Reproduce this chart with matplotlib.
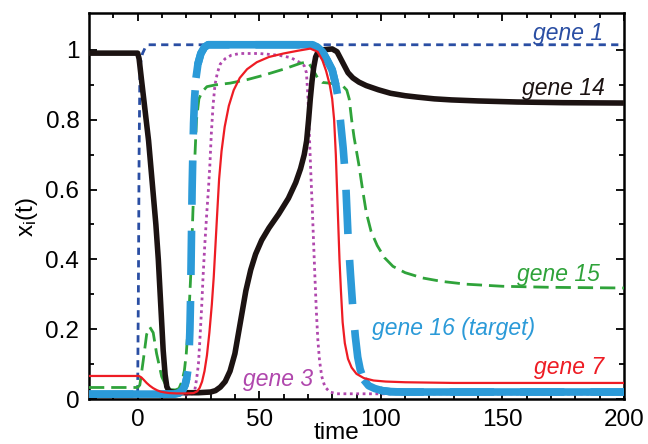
import matplotlib
matplotlib.use("Agg")
import matplotlib.pyplot as plt
import numpy as np

plt.rcParams['font.family'] = ['Liberation Sans', 'DejaVu Sans']
plt.rcParams['mathtext.fontset'] = 'custom'
plt.rcParams['mathtext.rm'] = 'Liberation Sans'
plt.rcParams['mathtext.it'] = 'Liberation Sans:italic'

# gene 1 (dark blue, short dashes)
t1 = [-20, 0, 0.3, 0.6, 0.9, 1.3, 2, 3, 4.5, 200]
y1 = [0.015, 0.015, 0.3, 0.7, 0.92, 0.965, 0.99, 1.005, 1.015, 1.015]

# gene 14 (black, thick)
t14 = [-20, 0, 0.6, 1.5, 2.5, 3.5, 4.5, 5.5, 6.5, 7.5, 8.5, 9.5, 10.5, 11.3, 12, 13,
       15, 20, 25, 30, 32, 34, 36, 38, 40, 41.5, 43, 44.5, 46.5, 48.5, 51, 54, 58,
       62, 65, 67, 68.5, 69.5, 70.3, 71, 71.7, 72.4, 73.2, 74.2, 75.5, 80, 82, 83.5,
       85, 86.5, 88.5, 91, 94, 99, 104, 110, 115, 122, 129, 140, 156, 175, 200]
y14 = [0.991, 0.991, 0.975, 0.92, 0.86, 0.8, 0.74, 0.66, 0.58, 0.5, 0.4, 0.27, 0.14,
       0.07, 0.035, 0.022, 0.019, 0.018, 0.018, 0.02, 0.024, 0.034, 0.05, 0.08, 0.13,
       0.19, 0.25, 0.31, 0.37, 0.415, 0.455, 0.49, 0.53, 0.575, 0.62, 0.66, 0.7, 0.74,
       0.8, 0.86, 0.91, 0.95, 0.98, 0.995, 1.0, 1.003, 0.995, 0.975, 0.955, 0.935,
       0.92, 0.908, 0.898, 0.886, 0.876, 0.869, 0.865, 0.86, 0.857, 0.854, 0.851,
       0.849, 0.848]

# gene 15 (green, dashed)
t15 = [-20, 0, 0.9, 2.3, 3.7, 5, 6.4, 7.8, 9.9, 11.9, 13.5, 15.5, 17, 18.2, 19.2, 20,
       20.7, 21.4, 22, 22.7, 23.4, 24.2, 25.2, 26.5, 28.5, 32, 38, 45, 52, 60, 67, 70,
       72, 74, 76, 79, 84, 86, 87, 88, 89, 90, 91, 92.5, 94, 96, 98.5, 101.5, 105,
       110, 117, 125, 135, 150, 170, 200]
y15 = [0.033, 0.033, 0.04, 0.11, 0.185, 0.206, 0.19, 0.13, 0.064, 0.035, 0.027, 0.026,
       0.03, 0.05, 0.08, 0.13, 0.2, 0.29, 0.38, 0.53, 0.67, 0.8, 0.86, 0.88, 0.895,
       0.9, 0.905, 0.915, 0.928, 0.945, 0.962, 0.966, 0.945, 0.92, 0.907, 0.905, 0.9,
       0.885, 0.86, 0.8, 0.75, 0.71, 0.67, 0.6, 0.535, 0.48, 0.44, 0.405, 0.38, 0.362,
       0.347, 0.337, 0.329, 0.323, 0.32, 0.318]

# gene 16 (target, light blue, thick)
t16 = [-20, 15, 17, 18.5, 19.5, 20.2, 20.7, 21.1, 21.5, 21.8, 22.0, 22.2, 22.4, 22.7,
       23.0, 23.4, 24.0, 24.8, 26, 27.5, 29, 72, 74, 76, 78, 80, 81.5, 82.5, 83.5,
       84.5, 85.5, 86.5, 87.5, 88.5, 89.5, 90.5, 91.5, 93, 95, 97.5, 100.5, 104, 110,
       200]
y16 = [0.014, 0.014, 0.017, 0.025, 0.04, 0.06, 0.085, 0.12, 0.2, 0.3, 0.4, 0.5, 0.6,
       0.7, 0.79, 0.86, 0.92, 0.96, 0.99, 1.008, 1.015, 1.015, 1.008, 0.995, 0.97,
       0.943, 0.9, 0.86, 0.79, 0.72, 0.63, 0.47, 0.36, 0.26, 0.18, 0.12, 0.085, 0.055,
       0.038, 0.03, 0.024, 0.021, 0.02, 0.02]

# gene 7 (red, thin)
t7 = [-20, 0.5, 1.5, 2.5, 3.7, 5, 6.4, 8, 9.5, 11, 13, 16, 20, 23, 24.5, 25.5, 26.5,
      27.5, 28.5, 29.5, 30.5, 31.3, 32, 32.7, 33.5, 34.5, 35.8, 37.5, 39.5, 42, 45,
      49, 54, 60, 66, 71, 74, 76, 77.5, 79, 80, 80.8, 81.5, 82, 82.5, 83, 83.6, 84.3,
      85.2, 86.5, 88, 90, 93, 97, 102, 110, 130, 200]
y7 = [0.066, 0.066, 0.062, 0.055, 0.046, 0.038, 0.031, 0.025, 0.021, 0.019, 0.017,
      0.016, 0.016, 0.017, 0.022, 0.032, 0.05, 0.08, 0.125, 0.19, 0.27, 0.35, 0.44,
      0.53, 0.63, 0.71, 0.78, 0.84, 0.885, 0.92, 0.945, 0.965, 0.98, 0.99, 0.998,
      1.004, 0.995, 0.97, 0.94, 0.9, 0.86, 0.8, 0.7, 0.6, 0.5, 0.4, 0.31, 0.22, 0.16,
      0.115, 0.09, 0.072, 0.06, 0.053, 0.05, 0.048, 0.046, 0.046]

# gene 3 (purple, dotted)
t3 = [-20, 21, 22.5, 23.5, 24.3, 25, 25.6, 26.3, 26.9, 27.6, 28.4, 29.1, 29.7, 30.3,
      31, 31.8, 32.8, 34, 36, 38.5, 42, 50, 58, 63, 66.5, 68.5, 69.4, 70, 70.6, 71.2,
      71.8, 72.4, 72.9, 73.5, 74.1, 74.8, 75.7, 77, 79, 82, 200]
y3 = [0.012, 0.012, 0.015, 0.025, 0.06, 0.1, 0.17, 0.26, 0.35, 0.44, 0.53, 0.6, 0.67,
      0.76, 0.84, 0.9, 0.935, 0.96, 0.975, 0.985, 0.99, 0.99, 0.985, 0.978, 0.965,
      0.955, 0.935, 0.87, 0.76, 0.65, 0.55, 0.44, 0.35, 0.25, 0.17, 0.11, 0.065,
      0.035, 0.02, 0.015, 0.014]

labels = ["gene 1", "gene 14", "gene 15", "gene 16 (target)", "gene 7", "gene 3"]
label_x = [191.5, 192, 190, 163.5, 192, 72]
label_y = [1.029, 0.871, 0.338, 0.183, 0.071, 0.037]

c1, c14, c15, c16, c7, c3 = "#2a4ea3", "#1c1312", "#2fa33a", "#2b9ad8", "#ee1c24", "#b047ad"

xticks = [0, 50, 100, 150, 200]
yticks = [0, 0.2, 0.4, 0.6, 0.8, 1.0]
ytick_labels = ["0", "0.2", "0.4", "0.6", "0.8", "1"]

fig = plt.figure(figsize=(6.48, 4.44), dpi=100)
ax = fig.add_axes([89 / 648, 1 - 399 / 444, 535 / 648, 386 / 444])

ax.plot(t1, y1, color=c1, lw=2.0, ls=(0, (2.6, 1.9)), zorder=1)
ax.plot(t3, y3, color=c3, lw=2.0, ls=(0, (1.0, 1.3)), zorder=2)
ax.plot(t15, y15, color=c15, lw=2.0, ls=(0, (5.5, 2.5)), zorder=3)
ax.plot(t14, y14, color=c14, lw=4.0, solid_joinstyle='round', zorder=4)

y16a = np.array(y16)
flat16 = np.where((y16a >= 0.9) | (y16a <= 0.07), y16a, np.nan)
ax.plot(t16, y16, color=c16, lw=5.5, ls=(0, (5.8, 3.4)), zorder=5)
ax.plot(t16, flat16, color=c16, lw=5.5, solid_capstyle='butt', zorder=5)
ax.plot(t7, y7, color=c7, lw=1.6, zorder=6)

for txt, x, y, c in zip(labels, label_x, label_y, [c1, c14, c15, c16, c7, c3]):
    ax.text(x, y, txt, color=c, fontsize=16.5, style='italic', ha='right',
            va='baseline', zorder=7)

ax.set_xlim(-20, 200)
ax.set_ylim(0, 1.106)
ax.set_xticks(xticks)
ax.set_xticks(np.arange(-10, 200, 10), minor=True)
ax.set_yticks(yticks, ytick_labels)
ax.set_yticks(np.arange(0.1, 1.1, 0.1), minor=True)
ax.tick_params(which='both', direction='in', top=True, right=True, width=1.3,
               labelsize=17.5, pad=7)
ax.tick_params(which='major', length=6)
ax.tick_params(which='minor', length=3.5)
for s in ax.spines.values():
    s.set_linewidth(1.8)

ax.set_xlabel("time", fontsize=17.5, va='baseline')
ax.xaxis.set_label_coords((336 - 89) / 535, (399 - 439) / 386)
ax.set_ylabel(r"x$_\mathrm{i}$(t)", fontsize=17.5)
ax.yaxis.set_label_coords((40 - 89) / 535, (399 - 217) / 386)

fig.savefig("out.png", dpi=100)
